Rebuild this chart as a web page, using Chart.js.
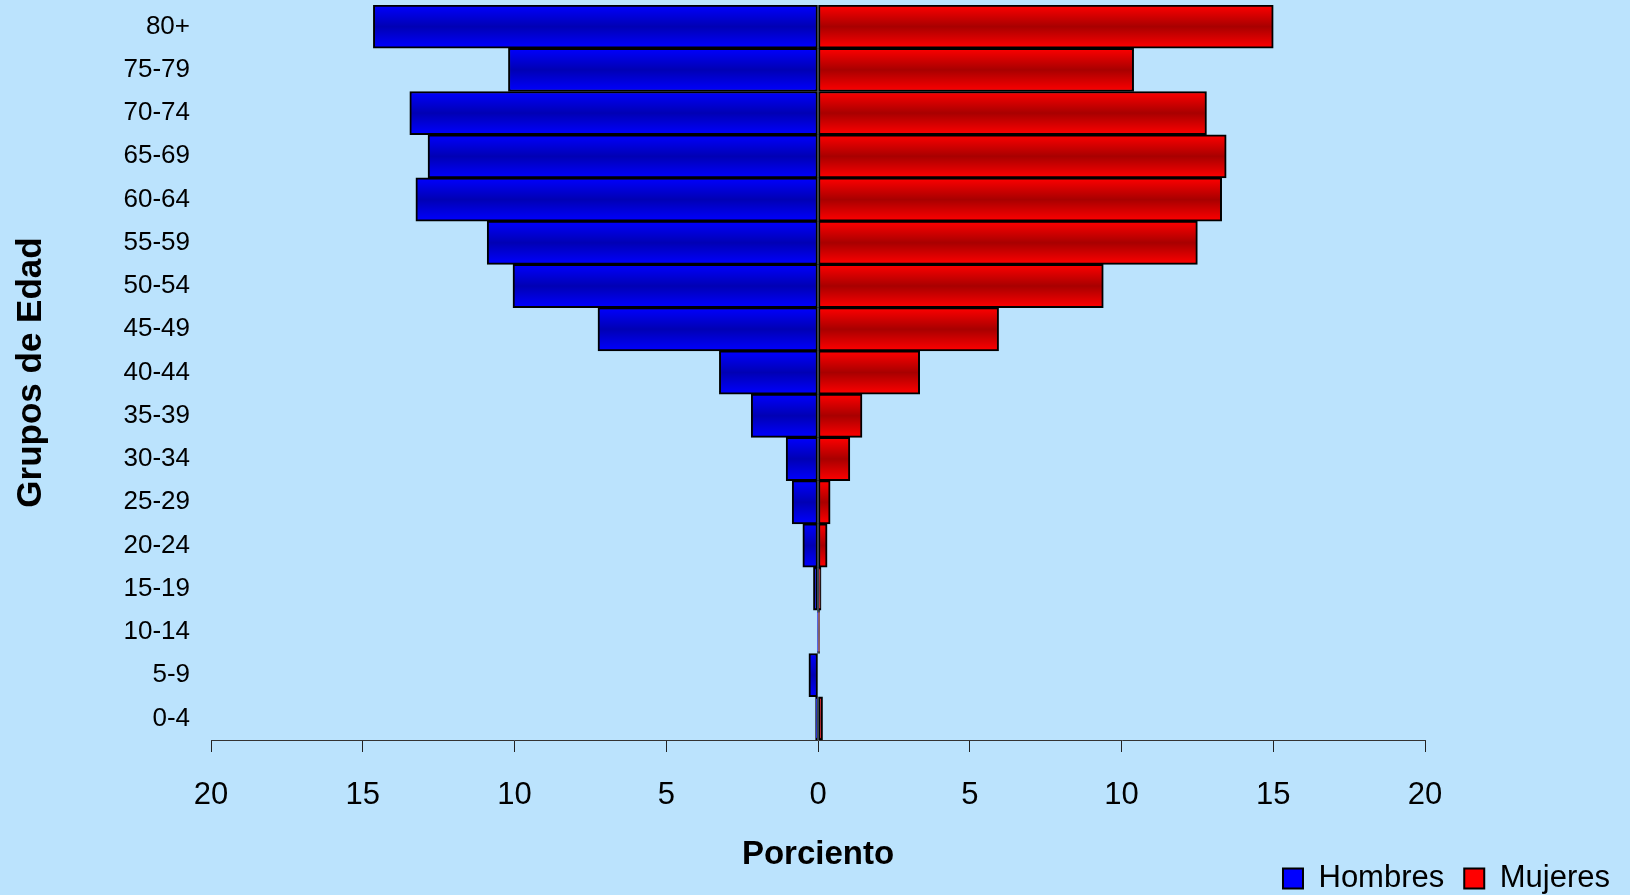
<!DOCTYPE html>
<html>
<head>
<meta charset="utf-8">
<title>Grupos de Edad</title>
<script src="https://cdn.jsdelivr.net/npm/chart.js@4"></script>
<style>
  html, body { margin: 0; padding: 0; background: #bbe3fd; }
  #wrap { width: 1630px; height: 895px; position: relative; }
</style>
</head>
<body>
<div id="wrap"><canvas id="pyramid"></canvas></div>
<script>
// age groups, top to bottom as drawn
const ageGroups = ["80+", "75-79", "70-74", "65-69", "60-64", "55-59", "50-54", "45-49",
  "40-44", "35-39", "30-34", "25-29", "20-24", "15-19", "10-14", "5-9", "0-4"];

// percent per group
const hombres = [14.65, 10.2, 13.45, 12.85, 13.25, 10.9, 10.05, 7.25,
  3.25, 2.2, 1.05, 0.85, 0.5, 0.15, 0.02, 0.3, 0.08];
const mujeres = [15.0, 10.4, 12.8, 13.45, 13.3, 12.5, 9.4, 5.95,
  3.35, 1.45, 1.05, 0.4, 0.3, 0.1, 0.05, 0.0, 0.15];

const xTicks = [-20, -15, -10, -5, 0, 5, 10, 15, 20];

const font = "'Liberation Sans', Arial, sans-serif";

// vertical gradient per bar: bright at the edges, darker in the middle
function barFill(bright, dark, flat) {
  return function (ctx) {
    const chart = ctx.chart;
    const y = chart.scales.y;
    if (ctx.type !== "data" || !y) return flat;
    const h = (y.bottom - y.top) / ageGroups.length;
    const c = y.getPixelForValue(ctx.dataIndex);
    if (!isFinite(c) || !isFinite(h) || h <= 0) return flat;
    const g = chart.ctx.createLinearGradient(0, c - h / 2, 0, c + h / 2);
    g.addColorStop(0, bright);
    g.addColorStop(0.5, dark);
    g.addColorStop(1, bright);
    return g;
  };
}

const ctx = document.getElementById("pyramid");

new Chart(ctx, {
  type: "bar",
  data: {
    labels: ageGroups,
    datasets: [
      {
        label: "Hombres",
        data: hombres.map(v => -v),
        backgroundColor: barFill("#0000ff", "#0000b4", "#0000dd"),
        borderColor: "#000",
        borderWidth: 2,
        borderSkipped: false,
        barPercentage: 1,
        categoryPercentage: 1,
      },
      {
        label: "Mujeres",
        data: mujeres,
        backgroundColor: barFill("#ff0000", "#a80000", "#dd0000"),
        borderColor: "#000",
        borderWidth: 2,
        borderSkipped: false,
        barPercentage: 1,
        categoryPercentage: 1,
      },
    ],
  },
  options: {
    indexAxis: "y",
    responsive: true,
    maintainAspectRatio: false,
    animation: false,
    layout: {
      padding: { top: 5, bottom: -9, left: 0, right: 0 },
    },
    plugins: {
      legend: {
        position: "bottom",
        align: "end",
        labels: {
          color: "#000",
          boxWidth: 20,
          boxHeight: 20,
          padding: 20,
          font: { family: font, size: 31 },
        },
      },
      tooltip: { enabled: false },
    },
    scales: {
      x: {
        type: "linear",
        stacked: true,
        min: -20,
        max: 20,
        afterBuildTicks: s => { s.ticks = xTicks.map(v => ({ value: v })); },
        afterFit: s => { s.height = 103; },
        border: { display: true, color: "#333", width: 1 },
        grid: {
          drawOnChartArea: false,
          drawTicks: true,
          tickLength: 12,
          tickColor: "#222",
        },
        ticks: {
          color: "#000",
          padding: 25,
          font: { family: font, size: 31 },
          callback: v => Math.abs(v),
        },
        title: {
          display: true,
          text: "Porciento",
          color: "#000",
          font: { family: font, size: 33, weight: "bold" },
          padding: { top: 0, bottom: -32 },
        },
      },
      y: {
        stacked: true,
        afterFit: s => {
          s.width = 211;
          s.paddingTop = 0;
          s.paddingBottom = 0;
        },
        border: { display: false },
        grid: { display: false, drawTicks: false },
        ticks: {
          color: "#000",
          padding: 21,
          font: { family: font, size: 26 },
        },
        title: {
          display: true,
          text: "Grupos de Edad",
          color: "#000",
          font: { family: font, size: 35, weight: "bold" },
          padding: { top: 10, bottom: 0 },
        },
      },
      // empty right-hand axis that only reserves space
      spacer: {
        type: "linear",
        position: "right",
        afterFit: s => {
          s.width = 205;
          s.paddingTop = 0;
          s.paddingBottom = 0;
        },
        border: { display: false },
        grid: { display: false },
        ticks: { display: false },
      },
    },
  },
});
</script>
</body>
</html>
